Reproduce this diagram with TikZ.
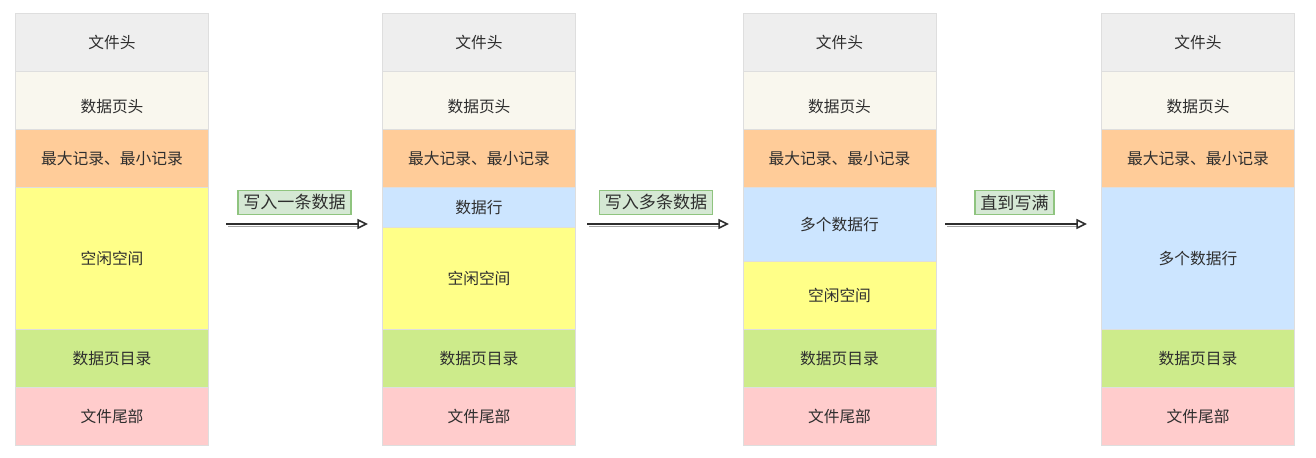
\documentclass[tikz,border=0pt]{standalone}
\usepackage{fontspec}
\newfontfamily\cjk{Noto Sans CJK SC}
\usetikzlibrary{arrows.meta}
\definecolor{cHead}{HTML}{EEEEEE}
\definecolor{cPage}{HTML}{F9F7EE}
\definecolor{cMax}{HTML}{FFCC99}
\definecolor{cFree}{HTML}{FFFF88}
\definecolor{cRow}{HTML}{CCE5FF}
\definecolor{cDir}{HTML}{CDEB8B}
\definecolor{cTail}{HTML}{FFCCCC}
\definecolor{cLabFill}{HTML}{D5E8D4}
\definecolor{cLabLine}{HTML}{8FC47F}
\definecolor{cTxt}{HTML}{2E2E2E}
\tikzset{
  cell/.style={draw=black!13, line width=0.75pt, inner sep=0pt, anchor=north west,
    minimum width=144.75pt, font=\cjk\fontsize{11.8pt}{14pt}\selectfont, text=cTxt},
  lowtext/.style={text height=19.4pt, text depth=1.6pt},
  steplabel/.style={fill=cLabFill, draw=cLabLine, line width=0.9pt, inner xsep=4pt, inner ysep=3pt,
    font=\cjk\fontsize{12.8pt}{15pt}\selectfont, text=cTxt},
  flowarrow/.style={draw=black!82, line width=1.2pt, -{Triangle[open, length=8pt, width=7.5pt, line width=1.2pt]}},
  shadowline/.style={draw=black!35, line width=0.8pt},
}
\newcommand\mycell[7][]{%
  \node[cell, fill=#5, minimum height={(#4-#3)*0.75pt}, #1] (#6) at (#2,#3) {#7};}
\begin{document}
\begin{tikzpicture}[x=0.75pt, y=-0.75pt]
\useasboundingbox (0,0) rectangle (1316,457);
% column 1
\mycell{15}{13}{71}{cHead}{a1}{文件头}
\mycell[lowtext]{15}{71}{129}{cPage}{a2}{数据页头}
\mycell{15}{129}{186.5}{cMax}{a3}{最大记录、最小记录}
\mycell{15}{186.5}{329}{cFree}{a4}{空闲空间}
\mycell{15}{329}{387}{cDir}{a5}{数据页目录}
\mycell{15}{387}{445}{cTail}{a6}{文件尾部}
% column 2
\mycell{382}{13}{71}{cHead}{b1}{文件头}
\mycell[lowtext]{382}{71}{129}{cPage}{b2}{数据页头}
\mycell{382}{129}{186.5}{cMax}{b3}{最大记录、最小记录}
\mycell{382}{186.5}{227}{cRow}{b4}{数据行}
\mycell{382}{227}{329}{cFree}{b5}{空闲空间}
\mycell{382}{329}{387}{cDir}{b6}{数据页目录}
\mycell{382}{387}{445}{cTail}{b7}{文件尾部}
% column 3
\mycell{742.5}{13}{71}{cHead}{c1}{文件头}
\mycell[lowtext]{742.5}{71}{129}{cPage}{c2}{数据页头}
\mycell{742.5}{129}{186.5}{cMax}{c3}{最大记录、最小记录}
\mycell{742.5}{186.5}{261}{cRow}{c4}{多个数据行}
\mycell{742.5}{261}{329}{cFree}{c5}{空闲空间}
\mycell{742.5}{329}{387}{cDir}{c6}{数据页目录}
\mycell{742.5}{387}{445}{cTail}{c7}{文件尾部}
% column 4
\mycell{1101}{13}{71}{cHead}{d1}{文件头}
\mycell[lowtext]{1101}{71}{129}{cPage}{d2}{数据页头}
\mycell{1101}{129}{186.5}{cMax}{d3}{最大记录、最小记录}
\mycell{1101}{186.5}{329}{cRow}{d4}{多个数据行}
\mycell{1101}{329}{387}{cDir}{d5}{数据页目录}
\mycell{1101}{387}{445}{cTail}{d6}{文件尾部}
% arrows
\coordinate (p1s) at (226,224); \coordinate (p1e) at (368,224);
\coordinate (q1s) at (228,226.8); \coordinate (q1e) at (358,226.8);
\coordinate (p2s) at (587,224); \coordinate (p2e) at (729,224);
\coordinate (q2s) at (589,226.8); \coordinate (q2e) at (719,226.8);
\coordinate (p3s) at (945,224); \coordinate (p3e) at (1087,224);
\coordinate (q3s) at (947,226.8); \coordinate (q3e) at (1077,226.8);
\draw[shadowline] (q1s) -- (q1e);
\draw[shadowline] (q2s) -- (q2e);
\draw[shadowline] (q3s) -- (q3e);
\draw[flowarrow] (p1s) -- (p1e);
\draw[flowarrow] (p2s) -- (p2e);
\draw[flowarrow] (p3s) -- (p3e);
\node[steplabel] (l1) at (294.5,202.5) {写入一条数据};
\node[steplabel] (l2) at (656,202.5) {写入多条数据};
\node[steplabel] (l3) at (1014.5,202.5) {直到写满};
\end{tikzpicture}
\end{document}
